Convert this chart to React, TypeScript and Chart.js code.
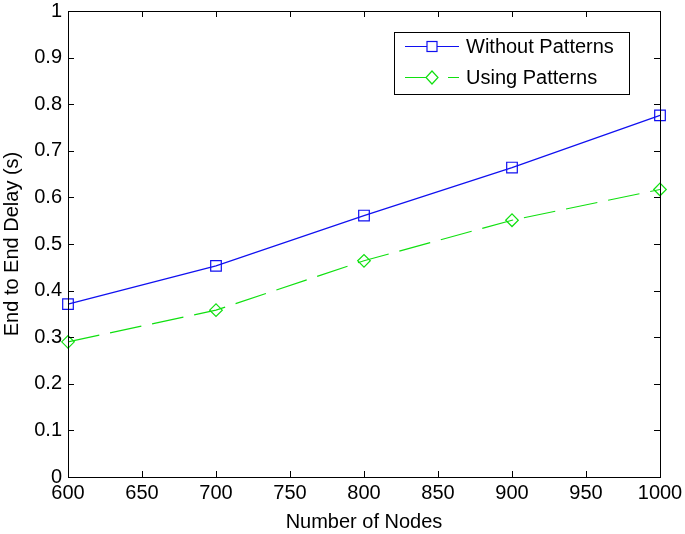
import React, { useEffect, useRef } from "react";
import { Chart, registerables } from "chart.js";

Chart.register(...registerables);

const nodes = [600, 700, 800, 900, 1000];
const withoutPatterns = [0.371, 0.453, 0.561, 0.664, 0.776];
const usingPatterns = [0.29, 0.358, 0.464, 0.551, 0.617];
const seriesLabels = ["Without Patterns", "Using Patterns"];
const xTitle = "Number of Nodes";
const yTitle = "End to End Delay (s)";

const BLUE = "#1010f0";
const GREEN = "#10e010";
const FONT = "'Liberation Sans', Arial, Helvetica, sans-serif";

const boxPlugin = {
  id: "matlabBox",
  afterDatasetsDraw(chart: any) {
    const { ctx, chartArea } = chart;
    const { left, right, top, bottom } = chartArea;
    const xs = chart.scales.x;
    const ys = chart.scales.y;
    ctx.save();
    ctx.strokeStyle = "#000";
    ctx.lineWidth = 1;
    ctx.strokeRect(Math.round(left) + 0.5, Math.round(top) + 0.5, Math.round(right - left), Math.round(bottom - top));
    const tl = 6;
    ctx.beginPath();
    xs.ticks.forEach((t: any) => {
      const px = Math.round(xs.getPixelForValue(t.value)) + 0.5;
      ctx.moveTo(px, bottom);
      ctx.lineTo(px, bottom - tl);
      ctx.moveTo(px, top);
      ctx.lineTo(px, top + tl);
    });
    ys.ticks.forEach((t: any) => {
      const py = Math.round(ys.getPixelForValue(t.value)) + 0.5;
      ctx.moveTo(left, py);
      ctx.lineTo(left + tl, py);
      ctx.moveTo(right, py);
      ctx.lineTo(right - tl, py);
    });
    ctx.stroke();

    // legend
    const lx = 394.5, ly = 32.5, lw = 235, lh = 62;
    ctx.fillStyle = "#fff";
    ctx.fillRect(lx, ly, lw, lh);
    ctx.strokeStyle = "#000";
    ctx.strokeRect(lx, ly, lw, lh);
    const rows = [46, 77];
    chart.data.datasets.forEach((ds: any, i: number) => {
      const y = rows[i] + 0.5;
      ctx.strokeStyle = ds.borderColor;
      ctx.lineWidth = 1.2;
      ctx.setLineDash(ds.borderDash || []);
      ctx.beginPath();
      ctx.moveTo(405, y);
      ctx.lineTo(459, y);
      ctx.stroke();
      ctx.setLineDash([]);
      ctx.beginPath();
      const cx = 432;
      if (ds.pointStyle === "rect") {
        ctx.fillStyle = "#fff";
        ctx.fillRect(cx - 5, y - 5, 10, 10);
        ctx.strokeRect(cx - 5, y - 5, 10, 10);
      } else {
        ctx.moveTo(cx, y - 6.5);
        ctx.lineTo(cx + 6, y);
        ctx.lineTo(cx, y + 6.5);
        ctx.lineTo(cx - 6, y);
        ctx.closePath();
        ctx.fillStyle = "#fff";
        ctx.fill();
        ctx.stroke();
      }
      ctx.fillStyle = "#000";
      ctx.font = `20px ${FONT}`;
      ctx.textBaseline = "middle";
      ctx.textAlign = "left";
      ctx.fillText(ds.label, 466, y + 1);
    });
    ctx.restore();
  },
};

export default function App() {
  const ref = useRef<HTMLCanvasElement>(null);
  useEffect(() => {
    document.body.style.margin = "0";
    const chart = new Chart(ref.current!, {
      type: "line",
      data: {
        datasets: [
          {
            label: seriesLabels[0],
            data: nodes.map((x, i) => ({ x, y: withoutPatterns[i] })),
            borderColor: BLUE,
            backgroundColor: "transparent",
            borderWidth: 1.2,
            pointStyle: "rect",
            pointRadius: 7.5,
            pointBorderWidth: 1.2,
            pointBorderColor: BLUE,
            pointBackgroundColor: "transparent",
            tension: 0,
            clip: false as any,
          },
          {
            label: seriesLabels[1],
            data: nodes.map((x, i) => ({ x, y: usingPatterns[i] })),
            borderColor: GREEN,
            backgroundColor: "transparent",
            borderWidth: 1.2,
            borderDash: [32, 11],
            pointStyle: "rectRot",
            pointRadius: 6.3,
            pointBorderWidth: 1.2,
            pointBorderColor: GREEN,
            pointBackgroundColor: "transparent",
            tension: 0,
            clip: false as any,
          },
        ],
      },
      options: {
        animation: false,
        responsive: false,
        maintainAspectRatio: false,
        layout: { padding: { top: 11, right: 25, left: 0, bottom: 0 } },
        plugins: { legend: { display: false }, tooltip: { enabled: false } },
        scales: {
          x: {
            type: "linear",
            min: 600,
            max: 1000,
            grid: { display: false, drawTicks: false },
            border: { display: false },
            ticks: {
              stepSize: 50,
              padding: 4,
              color: "#000",
              maxRotation: 0,
              font: { family: FONT, size: 20 },
              callback: (v: any) => String(v),
            },
            title: {
              display: true,
              text: xTitle,
              color: "#000",
              font: { family: FONT, size: 20 },
              padding: { top: 0, bottom: 0 },
            },
            afterFit(scale: any) {
              scale.height = 57;
              scale.paddingLeft = 0;
              scale.paddingRight = 0;
            },
          },
          y: {
            type: "linear",
            min: 0,
            max: 1,
            grid: { display: false, drawTicks: false },
            border: { display: false },
            ticks: {
              stepSize: 0.1,
              padding: 6,
              color: "#000",
              font: { family: FONT, size: 20 },
              callback: (v: any) => String(Number(Number(v).toFixed(1))),
            },
            title: {
              display: true,
              text: yTitle,
              color: "#000",
              font: { family: FONT, size: 20 },
              padding: { top: 0, bottom: 0 },
            },
            afterFit(scale: any) {
              scale.width = 68;
              scale.paddingTop = 0;
              scale.paddingBottom = 0;
            },
          },
        },
      },
      plugins: [boxPlugin],
    });
    return () => chart.destroy();
  }, []);
  return (
    <div style={{ width: 685, height: 534, background: "#fff" }}>
      <canvas ref={ref} width={685} height={534} style={{ display: "block" }} />
    </div>
  );
}
